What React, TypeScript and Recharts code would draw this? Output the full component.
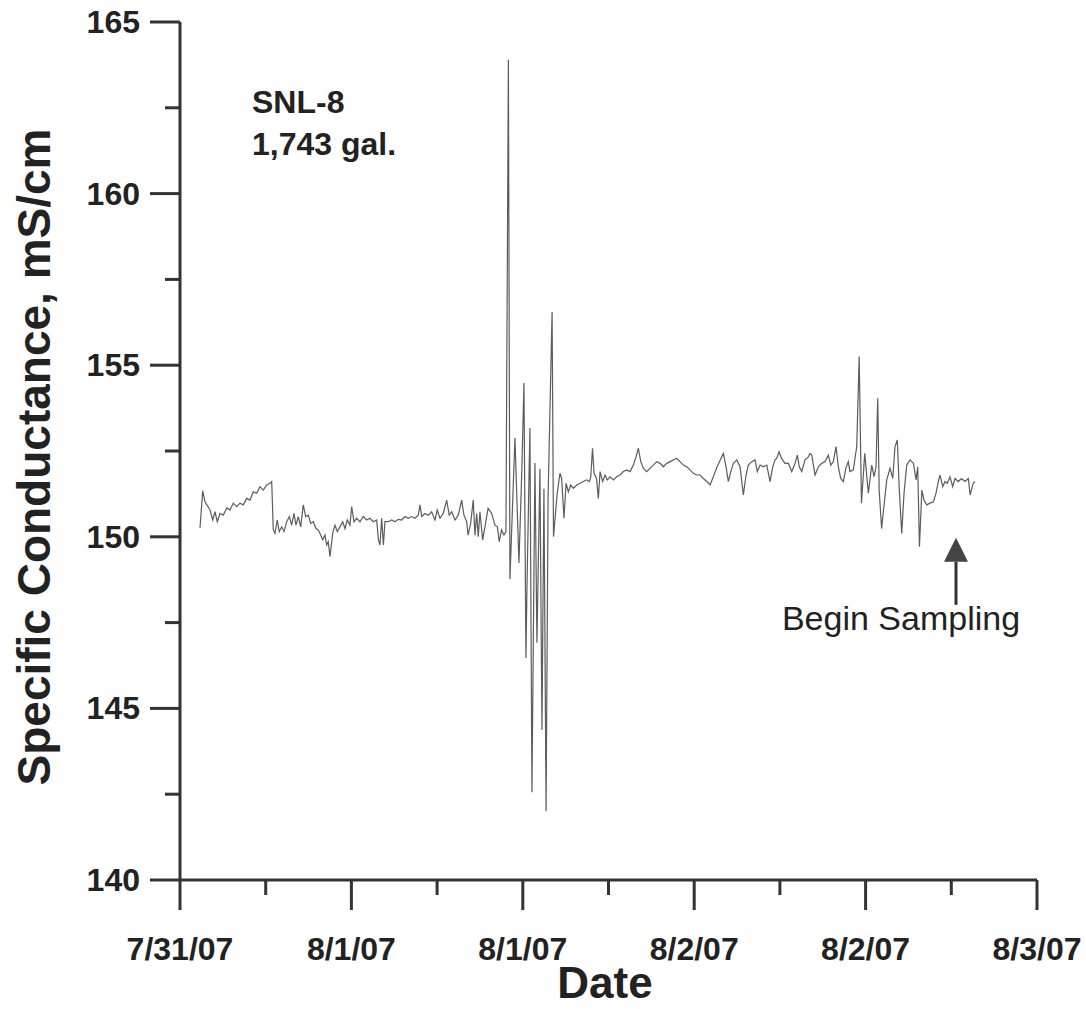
import React from 'react';
import { LineChart, Line, XAxis, YAxis, ReferenceDot } from 'recharts';

// hours after 7/31/07 12:00
const hours = [
  1.40, 1.59, 1.75, 2.10, 2.29, 2.45, 2.61, 2.80, 3.03, 3.27,
  3.50, 3.73, 3.97, 4.20, 4.43, 4.67, 4.90, 5.13, 5.37, 5.60,
  5.83, 6.07, 6.30, 6.42, 6.53, 6.65, 6.81, 6.95, 7.12, 7.28,
  7.47, 7.65, 7.82, 7.98, 8.12, 8.28, 8.45, 8.63, 8.80, 8.98,
  9.15, 9.33, 9.52, 9.68, 9.85, 9.99, 10.15, 10.27, 10.38, 10.50,
  10.69, 10.85, 11.01, 11.20, 11.39, 11.55, 11.71, 11.90, 12.02, 12.18,
  12.37, 12.60, 12.83, 13.07, 13.30, 13.53, 13.77, 13.89, 14.00, 14.12,
  14.24, 14.35, 14.58, 14.82, 15.05, 15.28, 15.52, 15.75, 15.98, 16.22,
  16.45, 16.68, 16.80, 16.92, 17.15, 17.38, 17.62, 17.85, 18.01, 18.20,
  18.43, 18.67, 18.85, 19.02, 19.25, 19.48, 19.72, 19.88, 20.07, 20.17,
  20.35, 20.53, 20.65, 20.77, 20.88, 21.00, 21.19, 21.35, 21.57, 21.82,
  22.05, 22.22, 22.35, 22.51, 22.68, 22.82, 22.99, 23.10, 23.45, 23.73,
  23.94, 24.08, 24.22, 24.29, 24.50, 24.64, 24.85, 24.99, 25.06, 25.20,
  25.34, 25.48, 25.63, 25.77, 26.05, 26.15, 26.41, 26.60, 26.72, 26.88,
  27.03, 27.19, 27.35, 27.54, 27.78, 28.01, 28.24, 28.47, 28.66, 28.76,
  28.88, 28.99, 29.16, 29.29, 29.41, 29.59, 29.76, 29.92, 30.11, 30.34,
  30.57, 30.81, 31.04, 31.27, 31.51, 31.74, 31.93, 32.09, 32.26, 32.44,
  32.68, 32.91, 33.14, 33.38, 33.61, 33.84, 34.08, 34.31, 34.54, 34.76,
  35.00, 35.24, 35.48, 35.71, 35.94, 36.18, 36.41, 36.64, 36.88, 37.11,
  37.34, 37.58, 37.81, 38.04, 38.23, 38.39, 38.56, 38.74, 38.98, 39.21,
  39.44, 39.63, 39.79, 40.03, 40.26, 40.42, 40.61, 40.84, 41.08, 41.31,
  41.50, 41.66, 41.78, 41.94, 42.11, 42.35, 42.59, 42.83, 43.06, 43.22,
  43.36, 43.53, 43.76, 43.99, 44.11, 44.23, 44.46, 44.69, 44.93, 45.16,
  45.39, 45.56, 45.74, 45.93, 46.09, 46.26, 46.44, 46.62, 46.79, 46.90,
  47.14, 47.38, 47.55, 47.71, 47.94, 48.19, 48.43, 48.59, 48.73, 48.85,
  48.95, 49.12, 49.23, 49.48, 49.71, 49.90, 50.06, 50.22, 50.36, 50.53,
  50.69, 50.88, 51.11, 51.35, 51.53, 51.65, 51.77, 51.94, 52.09, 52.28,
  52.51, 52.75, 52.93, 53.09, 53.21, 53.40, 53.56, 53.72, 53.91, 54.10,
  54.26, 54.49, 54.71, 54.96, 55.19, 55.32, 55.53, 55.66,
];

const conductance = [
  150.26, 151.34, 151.02, 150.78, 150.49, 150.73, 150.44, 150.68, 150.63, 150.84,
  150.78, 150.98, 150.88, 150.98, 150.93, 151.12, 151.07, 151.31, 151.27, 151.46,
  151.36, 151.51, 151.56, 151.61, 150.20, 150.10, 150.49, 150.15, 150.29, 150.15,
  150.44, 150.59, 150.34, 150.68, 150.34, 150.59, 150.29, 150.93, 150.59, 150.63,
  150.39, 150.44, 150.24, 150.20, 150.05, 149.91, 150.05, 149.76, 149.86, 149.42,
  150.10, 150.34, 150.15, 150.29, 150.44, 150.24, 150.49, 150.34, 150.88, 150.44,
  150.54, 150.44, 150.59, 150.49, 150.54, 150.44, 150.49, 149.91, 149.76, 150.54,
  149.76, 150.44, 150.44, 150.49, 150.44, 150.51, 150.49, 150.59, 150.54, 150.59,
  150.54, 150.63, 150.93, 150.59, 150.68, 150.63, 150.73, 150.49, 150.78, 150.54,
  150.68, 151.07, 150.63, 150.73, 150.49, 150.63, 151.07, 150.63, 150.44, 150.05,
  150.39, 151.07, 150.05, 150.68, 150.00, 150.73, 149.91, 150.29, 150.83, 150.68,
  150.34, 150.29, 149.86, 150.20, 150.05, 150.15, 163.90, 148.77, 152.88, 149.24,
  152.06, 154.48, 146.47, 148.50, 153.17, 142.56, 152.15, 146.91, 148.60, 151.98,
  144.37, 151.40, 142.00, 151.16, 156.55, 150.00, 151.27, 151.85, 151.70, 150.54,
  151.56, 151.31, 151.51, 151.41, 151.51, 151.56, 151.61, 151.66, 151.61, 151.75,
  152.58, 151.85, 151.70, 151.12, 151.90, 151.61, 151.80, 151.66, 151.75, 151.66,
  151.75, 151.80, 151.90, 151.95, 151.90, 152.09, 152.33, 152.58, 152.19, 152.00,
  151.90, 152.00, 152.09, 152.19, 152.14, 152.04, 152.14, 152.19, 152.24, 152.29,
  152.19, 152.09, 152.04, 151.95, 151.85, 151.80, 151.80, 151.70, 151.61, 151.51,
  151.75, 152.02, 152.22, 152.43, 152.04, 151.61, 151.90, 152.14, 152.24, 152.04,
  151.22, 151.80, 152.09, 152.19, 152.24, 151.90, 152.09, 152.04, 152.09, 151.61,
  152.04, 152.24, 152.29, 152.48, 152.29, 152.14, 152.14, 151.90, 152.14, 152.38,
  152.04, 151.90, 152.24, 152.33, 152.43, 152.38, 151.80, 152.04, 152.14, 152.19,
  152.38, 152.09, 152.19, 152.63, 152.04, 151.70, 151.61, 152.00, 152.19, 151.90,
  151.95, 152.63, 155.25, 150.98, 152.43, 151.27, 152.09, 151.75, 152.04, 154.04,
  151.36, 150.24, 150.68, 151.66, 152.00, 151.70, 152.63, 152.82, 151.36, 150.10,
  151.27, 152.09, 152.24, 152.14, 151.66, 152.04, 149.71, 151.36, 151.07, 150.93,
  150.98, 151.02, 151.27, 151.61, 151.80, 151.46, 151.61, 151.56, 151.75, 151.46,
  151.70, 151.61, 151.70, 151.61, 151.70, 151.22, 151.56, 151.61,
];

const xTicks = [0, 6, 12, 18, 24, 30, 36, 42, 48, 54, 60];
const xTickLabels = ['7/31/07', '8/1/07', '8/1/07', '8/2/07', '8/2/07', '8/3/07'];
const yTicks = [140, 142.5, 145, 147.5, 150, 152.5, 155, 157.5, 160, 162.5, 165];

const samplingStart = { hour: 54.33, value: 149.97 };

const FONT = '"Liberation Sans", Arial, sans-serif';
const AXIS = '#333';

const data = hours.map((h, i) => ({ h, v: conductance[i] }));

function XTick({ x, y, payload }: any) {
  const major = payload.value % 12 === 0;
  return (
    <g>
      <line x1={x} x2={x} y1={y} y2={y + (major ? 30 : 15)} stroke={AXIS} strokeWidth={3} />
      {major && (
        <text x={x} y={y + 80} textAnchor="middle" fontFamily={FONT} fontWeight="bold" fontSize={32} fill="#222">
          {xTickLabels[payload.value / 12]}
        </text>
      )}
    </g>
  );
}

function YTick({ x, y, payload }: any) {
  const major = payload.value % 5 === 0;
  return (
    <g>
      <line x1={x} x2={x - (major ? 30 : 15)} y1={y} y2={y} stroke={AXIS} strokeWidth={3} />
      {major && (
        <text x={x - 40} y={y + 11} textAnchor="end" fontFamily={FONT} fontWeight="bold" fontSize={32} fill="#222">
          {payload.value}
        </text>
      )}
    </g>
  );
}

function SamplingArrow({ cx, cy }: any) {
  return (
    <g>
      <polygon points={`${cx},${cy} ${cx - 12},${cy + 24} ${cx + 12},${cy + 24}`} fill="#444" />
      <line x1={cx} x2={cx} y1={cy + 24} y2={cy + 67} stroke="#333" strokeWidth={3} />
      <text x={cx - 55} y={cy + 92} textAnchor="middle" fontFamily={FONT} fontSize={34} fill="#222">
        Begin Sampling
      </text>
    </g>
  );
}

export default function App() {
  return (
    <div style={{ position: 'relative', width: 1086, height: 1009 }}>
      <style>{'body{margin:0}'}</style>
      <LineChart width={1086} height={1009} data={data} margin={{ top: 22, right: 49, bottom: 0, left: 0 }}>
        <XAxis
          dataKey="h"
          type="number"
          domain={[0, 60]}
          ticks={xTicks}
          tick={<XTick />}
          tickLine={false}
          tickSize={0}
          tickMargin={0}
          height={129}
          axisLine={{ stroke: AXIS, strokeWidth: 3 }}
          interval={0}
        />
        <YAxis
          type="number"
          domain={[140, 165]}
          ticks={yTicks}
          tick={<YTick />}
          tickLine={false}
          tickSize={0}
          tickMargin={0}
          width={180}
          axisLine={{ stroke: AXIS, strokeWidth: 3 }}
          interval={0}
          allowDataOverflow
        />
        <Line type="linear" dataKey="v" stroke="#5c5c5c" strokeWidth={1.2} dot={false} isAnimationActive={false} />
        <ReferenceDot x={samplingStart.hour} y={samplingStart.value} r={0} shape={<SamplingArrow />} />
      </LineChart>
      <svg width={1086} height={1009} style={{ position: 'absolute', left: 0, top: 0, pointerEvents: 'none' }}>
        <text x={252} y={113} fontFamily={FONT} fontWeight="bold" fontSize={32} fill="#222">SNL-8</text>
        <text x={252} y={155} fontFamily={FONT} fontWeight="bold" fontSize={32} fill="#222">1,743 gal.</text>
        <text x={605} y={998} textAnchor="middle" fontFamily={FONT} fontWeight="bold" fontSize={44} fill="#222">Date</text>
        <text
          transform="translate(50,457) rotate(-90)"
          textAnchor="middle"
          fontFamily={FONT}
          fontWeight="bold"
          fontSize={46}
          fill="#222"
        >
          Specific Conductance, mS/cm
        </text>
      </svg>
    </div>
  );
}
